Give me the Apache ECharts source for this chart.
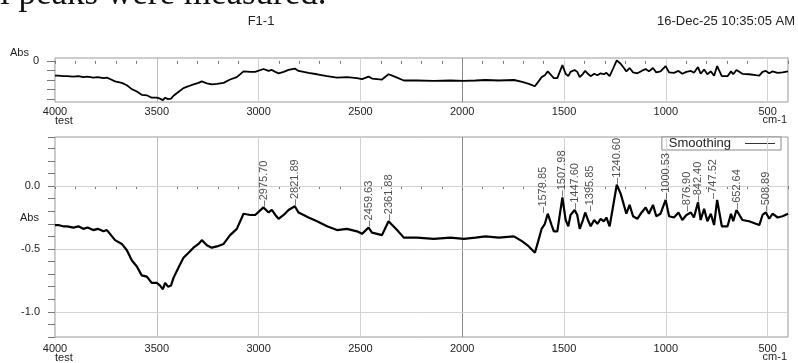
<!DOCTYPE html>
<html>
<head>
<meta charset="utf-8">
<title>F1-1</title>
<script src="https://cdn.jsdelivr.net/npm/echarts@6/dist/echarts.min.js"></script>
<style>
  html, body { margin: 0; padding: 0; background: #fff; }
  #chart { width: 798px; height: 363px; }
</style>
</head>
<body>
<div id="chart"></div>
<script>
// spectrum (wavenumber cm-1 / Abs)
const wavenumber = [
  4000, 3984, 3960, 3940, 3910, 3885, 3861, 3840, 3812, 3790, 3762, 3745, 3730, 3705, 3672, 3647,
  3623, 3598, 3574, 3549, 3525, 3500, 3485, 3470, 3459, 3445, 3430, 3418, 3394, 3369, 3344, 3320,
  3295, 3279, 3254, 3230, 3205, 3172, 3140, 3107, 3074, 3041, 3017, 2976, 2951, 2935, 2918, 2902,
  2877, 2853, 2822, 2804, 2779, 2755, 2713, 2664, 2615, 2566, 2517, 2492, 2460, 2443, 2418, 2394,
  2362, 2344, 2320, 2287, 2222, 2140, 2058, 1992, 1935, 1886, 1820, 1746, 1705, 1673, 1643, 1627,
  1610, 1594, 1580, 1561, 1550, 1533, 1508, 1492, 1479, 1468, 1448, 1435, 1423, 1407, 1396, 1380,
  1369, 1352, 1336, 1320, 1304, 1292, 1276, 1260, 1241, 1222, 1206, 1194, 1178, 1161, 1140, 1119,
  1099, 1083, 1063, 1047, 1026, 1001, 984, 960, 938, 919, 899, 877, 862, 842, 829, 812,
  796, 779, 763, 748, 725, 697, 680, 669, 653, 624, 591, 558, 541, 525, 509, 492,
  476, 451, 427, 400
];
const absorbance = [
  -0.31, -0.31, -0.32, -0.32, -0.33, -0.32, -0.34, -0.33, -0.35, -0.34, -0.36, -0.35, -0.38, -0.43, -0.46, -0.51,
  -0.59, -0.64, -0.71, -0.72, -0.77, -0.77, -0.79, -0.82, -0.77, -0.80, -0.79, -0.73, -0.65, -0.57, -0.53, -0.49,
  -0.46, -0.43, -0.47, -0.49, -0.48, -0.46, -0.39, -0.34, -0.22, -0.23, -0.23, -0.17, -0.21, -0.19, -0.23, -0.26,
  -0.23, -0.19, -0.16, -0.21, -0.23, -0.25, -0.28, -0.32, -0.35, -0.34, -0.36, -0.38, -0.33, -0.37, -0.38, -0.39,
  -0.28, -0.31, -0.35, -0.41, -0.41, -0.42, -0.41, -0.42, -0.41, -0.40, -0.41, -0.40, -0.44, -0.48, -0.53, -0.44,
  -0.34, -0.30, -0.22, -0.31, -0.36, -0.36, -0.09, -0.27, -0.32, -0.23, -0.19, -0.23, -0.34, -0.27, -0.21, -0.28,
  -0.32, -0.27, -0.30, -0.26, -0.28, -0.25, -0.32, -0.17, 0.01, -0.06, -0.15, -0.22, -0.15, -0.24, -0.26, -0.21,
  -0.17, -0.22, -0.15, -0.24, -0.22, -0.11, -0.24, -0.25, -0.21, -0.27, -0.23, -0.21, -0.25, -0.13, -0.27, -0.18,
  -0.28, -0.22, -0.31, -0.11, -0.32, -0.32, -0.22, -0.28, -0.19, -0.27, -0.28, -0.30, -0.31, -0.23, -0.21, -0.26,
  -0.22, -0.25, -0.24, -0.22
];

// picked peaks
const peakWn = [2975.70, 2821.89, 2459.63, 2361.88, 1579.85, 1507.98, 1447.60, 1395.85, 1240.60, 1000.53, 876.90, 842.40, 747.52, 652.64, 508.89];
const peakAbs = [-0.17, -0.16, -0.33, -0.28, -0.22, -0.09, -0.19, -0.21, 0.01, -0.11, -0.21, -0.13, -0.11, -0.19, -0.21];

// ticks
const xLabels = [4000, 3500, 3000, 2500, 2000, 1500, 1000, 500];
const yLabels = [0, -0.5, -1.0];
const topYTicks = [0, -0.2, -0.4, -0.6, -0.8];
const topYLabels = [0];

const FONT = 'Liberation Sans, Arial, sans-serif';
// crowded peak labels are pushed sideways a little, like the instrument does
// (label is rotated, so a sideways move is the second offset component)
const labelNudge = { '1579.85': -5, '1395.85': 5, '876.90': -4, '747.52': -4 };

const spectrum = wavenumber.map((w, i) => [w, absorbance[i]]);
const peaks = peakWn.map((w, i) => {
  const name = w.toFixed(2);
  const item = { value: [w, peakAbs[i]], name: name };
  if (labelNudge[name]) item.label = { offset: [0, labelNudge[name]] };
  return item;
});

const vLines = xLabels.filter(v => v !== 4000).map(v => ({
  xAxis: v,
  lineStyle: { color: v === 2000 ? '#8a8a8a' : (v === 3500 ? '#bdbdbd' : '#d2d2d2') }
}));
const hLines = yLabels.map(v => ({ yAxis: v }));

function xAxisCfg(gridIndex, margin) {
  return {
    type: 'value',
    gridIndex: gridIndex,
    inverse: true,
    min: 400,
    max: 4000,
    interval: 100,
    axisLine: { show: false },
    axisTick: { show: true, length: 3, lineStyle: { color: '#777' } },
    splitLine: { show: false },
    axisLabel: {
      margin: margin,
      color: '#222',
      fontSize: 11,
      fontFamily: FONT,
      formatter: v => (xLabels.indexOf(Math.round(v)) >= 0 ? String(Math.round(v)) : '')
    }
  };
}

const chart = echarts.init(document.getElementById('chart'));
chart.setOption({
  animation: false,
  backgroundColor: '#fff',
  grid: [
    { left: 55, right: 10, top: 58, height: 44, show: true, borderColor: '#999', borderWidth: 1 },
    { left: 55, right: 10, top: 137, height: 200, show: true, borderColor: '#999', borderWidth: 1 }
  ],
  xAxis: [xAxisCfg(0, 4), xAxisCfg(1, 6)],
  yAxis: [
    {
      type: 'value',
      gridIndex: 0,
      min: -0.86,
      max: 0.06,
      axisLine: { show: false },
      splitLine: { show: false },
      axisTick: { show: true, length: 8, customValues: topYTicks, lineStyle: { color: '#777' } },
      axisLabel: {
        customValues: topYLabels,
        margin: 16,
        color: '#222',
        fontSize: 11,
        fontFamily: FONT,
        formatter: v => (Math.abs(v) < 1e-6 ? '0' : '')
      }
    },
    {
      type: 'value',
      gridIndex: 1,
      min: -1.2,
      max: 0.39,
      interval: 0.1,
      axisLine: { show: false },
      splitLine: { show: false },
      axisTick: { show: true, length: 7, lineStyle: { color: '#777' } },
      axisLabel: {
        margin: 15,
        color: '#222',
        fontSize: 11,
        fontFamily: FONT,
        formatter: v => {
          const k = Math.round(v * 10);
          if (Math.abs(v * 10 - k) > 1e-6 || k % 5 !== 0 || v > 0.3) return '';
          return (k / 10).toFixed(1);
        }
      }
    }
  ],
  legend: {
    data: [{ name: 'Smoothing', icon: 'rect' }],
    right: 17,
    top: 137,
    align: 'right',
    itemWidth: 30,
    itemHeight: 1,
    padding: [0, 6, 0, 7],
    borderColor: '#888',
    borderWidth: 1,
    backgroundColor: '#fff',
    itemStyle: { color: '#333' },
    textStyle: { fontSize: 13, color: '#222', fontFamily: FONT, lineHeight: 13, padding: [0, 9, 0, 0] }
  },
  graphic: [
    { type: 'text', x: 0, y: -5, style: { text: 'l peaks were measured.', font: '35px "Liberation Serif", "Times New Roman", serif', fill: '#111', textAlign: 'left', textVerticalAlign: 'middle' } },
    { type: 'text', x: 261, y: 21, style: { text: 'F1-1', font: '13px ' + FONT, fill: '#222', textAlign: 'center', textVerticalAlign: 'middle' } },
    { type: 'text', x: 795, y: 21, style: { text: '16-Dec-25 10:35:05 AM', font: '13px ' + FONT, fill: '#222', textAlign: 'right', textVerticalAlign: 'middle' } },
    { type: 'text', x: 10, y: 53, style: { text: 'Abs', font: '11px ' + FONT, fill: '#222', textAlign: 'left', textVerticalAlign: 'middle' } },
    { type: 'text', x: 55, y: 121, style: { text: 'test', font: '11px ' + FONT, fill: '#222', textAlign: 'left', textVerticalAlign: 'middle' } },
    { type: 'text', x: 787, y: 120, style: { text: 'cm-1', font: '11px ' + FONT, fill: '#222', textAlign: 'right', textVerticalAlign: 'middle' } },
    { type: 'text', x: 20, y: 218, style: { text: 'Abs', font: '11px ' + FONT, fill: '#222', textAlign: 'left', textVerticalAlign: 'middle' } },
    { type: 'text', x: 55, y: 358, style: { text: 'test', font: '11px ' + FONT, fill: '#222', textAlign: 'left', textVerticalAlign: 'middle' } },
    { type: 'text', x: 787, y: 357, style: { text: 'cm-1', font: '11px ' + FONT, fill: '#222', textAlign: 'right', textVerticalAlign: 'middle' } }
  ],
  series: [
    {
      name: 'overview',
      type: 'line',
      xAxisIndex: 0,
      yAxisIndex: 0,
      data: spectrum,
      symbol: 'none',
      z: 10,
      lineStyle: { color: '#000', width: 1.8 },
      markLine: {
        silent: true,
        symbol: 'none',
        label: { show: false },
        lineStyle: { type: 'solid', width: 1 },
        data: vLines
      }
    },
    {
      name: 'Smoothing',
      type: 'line',
      xAxisIndex: 1,
      yAxisIndex: 1,
      data: spectrum,
      symbol: 'none',
      z: 10,
      itemStyle: { color: '#000' },
      lineStyle: { color: '#000', width: 2.2 },
      markLine: {
        silent: true,
        symbol: 'none',
        label: { show: false },
        lineStyle: { type: 'solid', width: 1, color: '#d2d2d2' },
        data: vLines.concat(hLines)
      }
    },
    {
      name: 'peaks',
      type: 'scatter',
      xAxisIndex: 1,
      yAxisIndex: 1,
      data: peaks,
      symbolSize: 0,
      z: 11,
      silent: true,
      label: {
        show: true,
        position: 'top',
        distance: 1,
        rotate: 90,
        align: 'left',
        verticalAlign: 'middle',
        color: '#222',
        fontSize: 11,
        fontFamily: FONT,
        formatter: p => '\u2013' + p.name
      }
    }
  ]
});
</script>
</body>
</html>
